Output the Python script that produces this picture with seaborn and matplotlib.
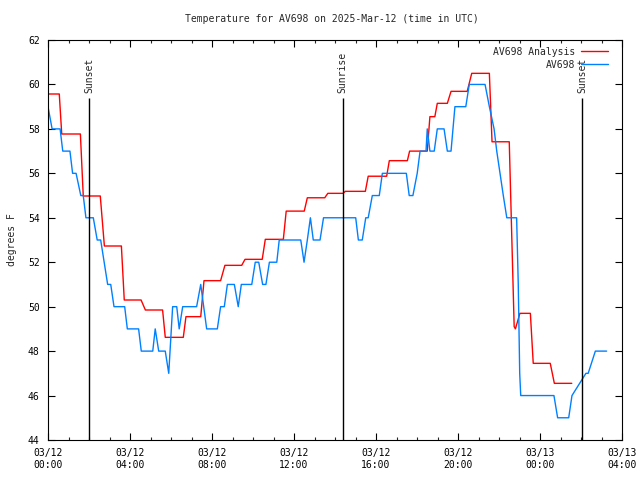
import matplotlib
matplotlib.use("Agg")
import matplotlib.pyplot as plt
import seaborn as sns
import pandas as pd
import numpy as np

# ---- data (hours since 03/12 00:00 UTC, temperature in F) ----
analysis_hours = [0, 0.55, 0.67, 1.58, 1.72, 2.55, 2.75, 3.58, 3.72, 4.54, 4.75, 5.59, 5.72,
                  6.6, 6.73, 7.45, 7.61, 8.42, 8.63, 9.45, 9.61, 10.45, 10.6, 11.48, 11.62,
                  12.5, 12.65, 13.5, 13.65, 14.4, 14.5, 15.48, 15.62, 16.52, 16.65, 17.53,
                  17.64, 18.5, 18.63, 18.87, 18.99, 19.48, 19.66, 20.45, 20.67, 21.53, 21.66,
                  22.5, 22.74, 22.8, 23.02, 23.53, 23.67, 24.5, 24.7, 25.55]
analysis_temps = [59.57, 59.57, 57.77, 57.77, 54.98, 54.98, 52.73, 52.73, 50.3, 50.3, 49.85, 49.85, 48.62,
                  48.62, 49.55, 49.55, 51.17, 51.17, 51.86, 51.86, 52.13, 52.13, 53.03, 53.03, 54.3,
                  54.3, 54.9, 54.9, 55.1, 55.1, 55.19, 55.19, 55.87, 55.87, 56.57, 56.57,
                  57.0, 57.0, 58.55, 58.55, 59.15, 59.15, 59.69, 59.69, 60.5, 60.5, 57.42,
                  57.42, 49.1, 49.0, 49.7, 49.7, 47.45, 47.45, 46.55, 46.55]

obs_hours = [0, 0.2, 0.59, 0.72, 1.07, 1.2, 1.37, 1.6, 1.72, 1.85, 2.21, 2.4, 2.57, 2.91, 3.06,
             3.22, 3.74, 3.87, 4.42, 4.55, 5.11, 5.23, 5.4, 5.72, 5.89, 6.08, 6.28, 6.4, 6.57,
             7.25, 7.45, 7.74, 8.26, 8.42, 8.6, 8.75, 9.09, 9.28, 9.43, 9.94, 10.11, 10.28,
             10.47, 10.63, 10.8, 11.16, 11.28, 12.33, 12.49, 12.65, 12.8, 12.94, 13.27, 13.44,
             15.01, 15.14, 15.33, 15.5, 15.62, 15.82, 16.16, 16.31, 17.48, 17.62, 17.8, 18.01,
             18.15, 18.44, 18.5, 18.63, 18.84, 18.99, 19.32, 19.48, 19.66, 19.85, 20.38, 20.55,
             21.32, 21.53, 21.76, 21.89, 22.05, 22.21, 22.38, 22.86, 22.94, 23.01, 23.06,
             24.68, 24.86, 25.4, 25.56, 26.24, 26.35, 26.7, 27.25]
obs_temps = [59, 58, 58, 57, 57, 56, 56, 55, 55, 54, 54, 53, 53, 51, 51,
             50, 50, 49, 49, 48, 48, 49, 48, 48, 47, 50, 50, 49, 50,
             50, 51, 49, 49, 50, 50, 51, 51, 50, 51, 51, 52, 52,
             51, 51, 52, 52, 53, 53, 52, 53, 54, 53, 53, 54,
             54, 53, 53, 54, 54, 55, 55, 56, 56, 55, 55, 56,
             57, 57, 58, 57, 57, 58, 58, 57, 57, 59, 59, 60,
             60, 59, 58, 57, 56, 55, 54, 54, 51, 47, 46,
             46, 45, 45, 46, 47, 47, 48, 48]

sun_events = ["Sunset", "Sunrise", "Sunset"]
sun_hours = [2.02, 14.37, 26.06]

xtick_hours = [0, 4, 8, 12, 16, 20, 24, 28]
xtick_labels = ["03/12\n00:00", "03/12\n04:00", "03/12\n08:00", "03/12\n12:00",
                "03/12\n16:00", "03/12\n20:00", "03/13\n00:00", "03/13\n04:00"]
ytick_values = [44, 46, 48, 50, 52, 54, 56, 58, 60, 62]

title = "Temperature for AV698 on 2025-Mar-12 (time in UTC)"
ylabel = "degrees F"

# ---- plot ----
sns.set_style("white")
plt.rcParams['font.family'] = ['DejaVu Sans Mono', 'DejaVu Sans']
plt.rcParams['font.size'] = 7

fig = plt.figure(figsize=(6.4, 4.8), dpi=100)
ax = fig.add_axes([48/640, 40/480, 574/640, 400/480])

df_a = pd.DataFrame({"h": analysis_hours, "t": analysis_temps})
df_o = pd.DataFrame({"h": obs_hours, "t": obs_temps})
sns.lineplot(data=df_a, x="h", y="t", ax=ax, color="#ff0000", lw=1.0,
             label="AV698 Analysis", sort=False, estimator=None)
sns.lineplot(data=df_o, x="h", y="t", ax=ax, color="#0080ff", lw=1.0,
             label="AV698", sort=False, estimator=None)

for name, h in zip(sun_events, sun_hours):
    ax.vlines(h, 44, 59.39, color="black", lw=1.0)
    ax.text(h, 59.62, name, rotation=90, ha="center", va="bottom", fontsize=7)

ax.set_xlim(0, 28)
ax.set_ylim(44, 62)
ax.set_xticks(xtick_hours)
ax.set_xticklabels(xtick_labels, fontsize=7)
ax.set_xticks(np.arange(0, 29, 1), minor=True)
ax.set_yticks(ytick_values)
ax.set_yticklabels([str(v) for v in ytick_values], fontsize=7)
ax.tick_params(which="major", direction="in", length=5, width=0.8, top=True, right=True,
               bottom=True, left=True, pad=6, colors="black")
ax.tick_params(which="minor", direction="in", length=2.5, width=0.8, top=True, right=True,
               bottom=True, left=False)
for s in ax.spines.values():
    s.set_color("black")
    s.set_linewidth(0.8)

ax.set_xlabel("")
ax.set_ylabel(ylabel, fontsize=7, labelpad=8)
fig.text(332/640, 1 - 19/480, title, ha="center", va="center", fontsize=7)

leg = ax.legend(loc="upper right", frameon=False, markerfirst=False, handlelength=2.8,
                fontsize=7, labelspacing=0.3, borderaxespad=0.0, handletextpad=0.6,
                bbox_to_anchor=(1 - 10/574, 1 - 3/400))

fig.savefig("out.png", dpi=100)
